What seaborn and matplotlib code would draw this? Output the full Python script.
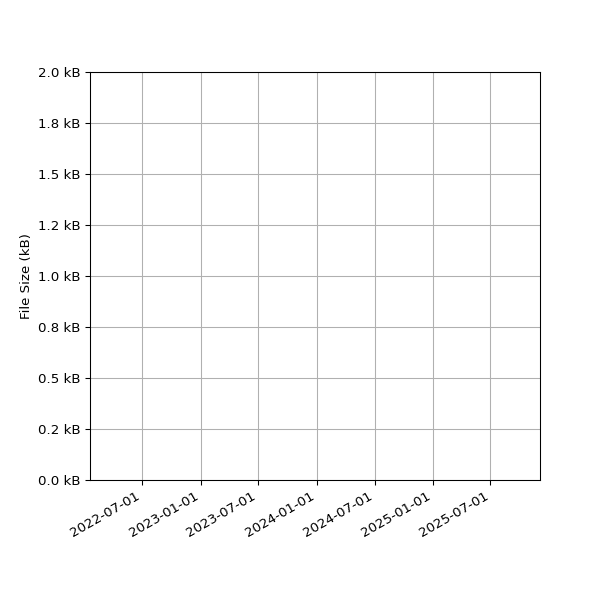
import pandas as pd
import seaborn as sns
import matplotlib.pyplot as plt
import matplotlib.dates as mdates
from matplotlib.ticker import FuncFormatter, MultipleLocator

# no points are visible in the picture: the series is empty
dates = []
sizes_bytes = []

x_range = ['2022-01-17', '2025-12-04']
y_range = [0, 2000]
tick_dates = ['2022-07-01', '2023-01-01', '2023-07-01', '2024-01-01',
              '2024-07-01', '2025-01-01', '2025-07-01']

df = pd.DataFrame({'date': pd.to_datetime(pd.Series(dates, dtype='object')),
                   'size': pd.Series(sizes_bytes, dtype='float')})

fig, ax = plt.subplots(figsize=(6.25, 6.25), dpi=96)
sns.lineplot(data=df, x='date', y='size', ax=ax)

ax.set_xlim(pd.to_datetime(x_range[0]), pd.to_datetime(x_range[1]))
ax.set_ylim(*y_range)
ax.set_xticks(pd.to_datetime(tick_dates))
ax.xaxis.set_major_formatter(mdates.DateFormatter('%Y-%m-%d'))
ax.yaxis.set_major_locator(MultipleLocator(250))
ax.yaxis.set_major_formatter(FuncFormatter(lambda v, p: f'{v / 1000:.1f} kB'))
ax.set_xlabel('')
ax.set_ylabel('File Size (kB)')
ax.grid(True)

fig.autofmt_xdate()
fig.subplots_adjust(left=0.15, right=0.9, top=0.88, bottom=0.2)
plt.savefig('out.png', dpi=96)
